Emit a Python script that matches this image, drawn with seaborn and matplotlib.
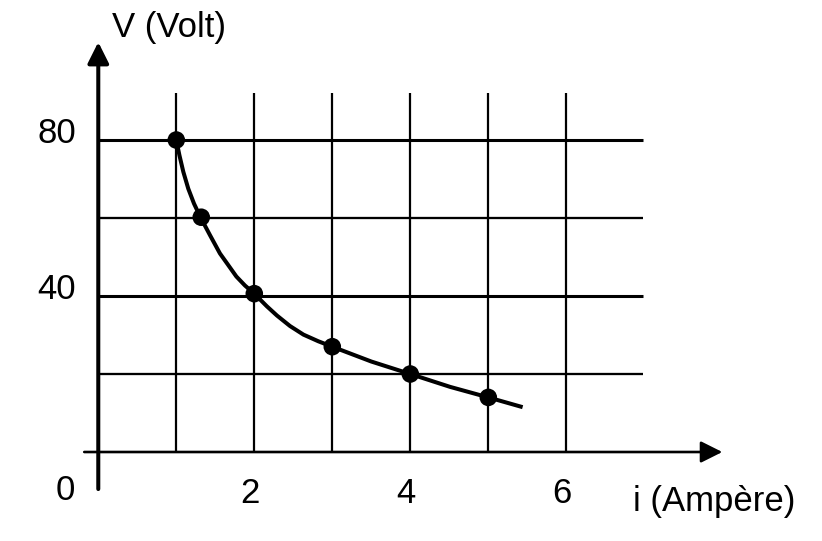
import matplotlib
matplotlib.use("Agg")
import matplotlib.pyplot as plt
import seaborn as sns
import pandas as pd

# measured points (current i in A, voltage V in V)
pts_i = [1.0, 1.32, 2.0, 3.0, 4.0, 5.0]
pts_v = [80.0, 60.2, 40.6, 27.0, 20.0, 14.0]

# hand-drawn curve
curve_i = [1.00, 1.04, 1.09, 1.154, 1.227, 1.31, 1.432, 1.56, 1.667, 1.77, 1.88, 2.00,
           2.159, 2.29, 2.458, 2.63, 2.82, 3.00, 3.50, 4.00, 4.51, 5.00, 5.44]
curve_v = [80.0, 76.1, 71.85, 67.5, 63.7, 60.2, 55.6, 50.9, 47.9, 45.0, 42.7, 40.6,
           37.4, 35.0, 32.3, 30.1, 28.4, 27.0, 23.2, 20.0, 16.7, 14.0, 11.5]

# grid + labels
grid_x = [1, 2, 3, 4, 5, 6]
grid_y = [20, 40, 60, 80]
xtick_labels = [2, 4, 6]
ytick_labels = [80, 40]
x_title = "i (Ampère)"
y_title = "V (Volt)"

pts = pd.DataFrame({"i": pts_i, "V": pts_v})
curve = pd.DataFrame({"i": curve_i, "V": curve_v})

sns.set_theme(style="white")
plt.rcParams["font.family"] = ["Liberation Sans", "DejaVu Sans"]
plt.rcParams["text.color"] = "black"

fig = plt.figure(figsize=(8.22, 5.41), dpi=100)
ax = fig.add_axes([0, 0, 1, 1])
ax.set_xlim(-1.260, 9.278)
ax.set_ylim(-22.82, 115.9)
ax.axis("off")

# grid (thicker lines at 40 and 80)
ax.vlines(grid_x, 0, 92, color="black", lw=1.6, zorder=1)
for gy in grid_y:
    ax.hlines(gy, 0, 6.98, color="black", lw=2.2 if gy % 40 == 0 else 1.65, zorder=1)

# axes with arrows
ax.annotate("", xy=(8.0, 0), xytext=(-0.18, 0),
            arrowprops=dict(arrowstyle="-|>", lw=1.9, color="black",
                            mutation_scale=33, shrinkA=0, shrinkB=0), zorder=2)
ax.annotate("", xy=(0, 105.1), xytext=(0, -9.5),
            arrowprops=dict(arrowstyle="-|>", lw=2.9, color="black",
                            mutation_scale=32, shrinkA=0, shrinkB=0), zorder=3)

ln = sns.lineplot(data=curve, x="i", y="V", sort=False, color="black", lw=2.9,
                  ax=ax, zorder=4, legend=False)
for line in ax.get_lines():
    line.set_solid_joinstyle("round")
    line.set_solid_capstyle("butt")
sns.scatterplot(data=pts, x="i", y="V", color="black", s=160, edgecolor="none",
                ax=ax, zorder=5, legend=False)

fs = 25
for v in xtick_labels:
    ax.text(v - 0.06, -13.0, str(v), ha="center", va="baseline", fontsize=fs, color="black")
ax.text(-0.42, -12.3, "0", ha="center", va="baseline", fontsize=fs, color="black")
for v in ytick_labels:
    ax.text(-0.53, v - 0.8, str(v), ha="center", va="baseline", fontsize=fs, color="black")

ax.text(0.17, 106.4, y_title, ha="left", va="baseline", fontsize=fs, color="black")
ax.text(6.855, -15.05, x_title, ha="left", va="baseline", fontsize=fs, color="black")

fig.savefig("out.png", dpi=100)
